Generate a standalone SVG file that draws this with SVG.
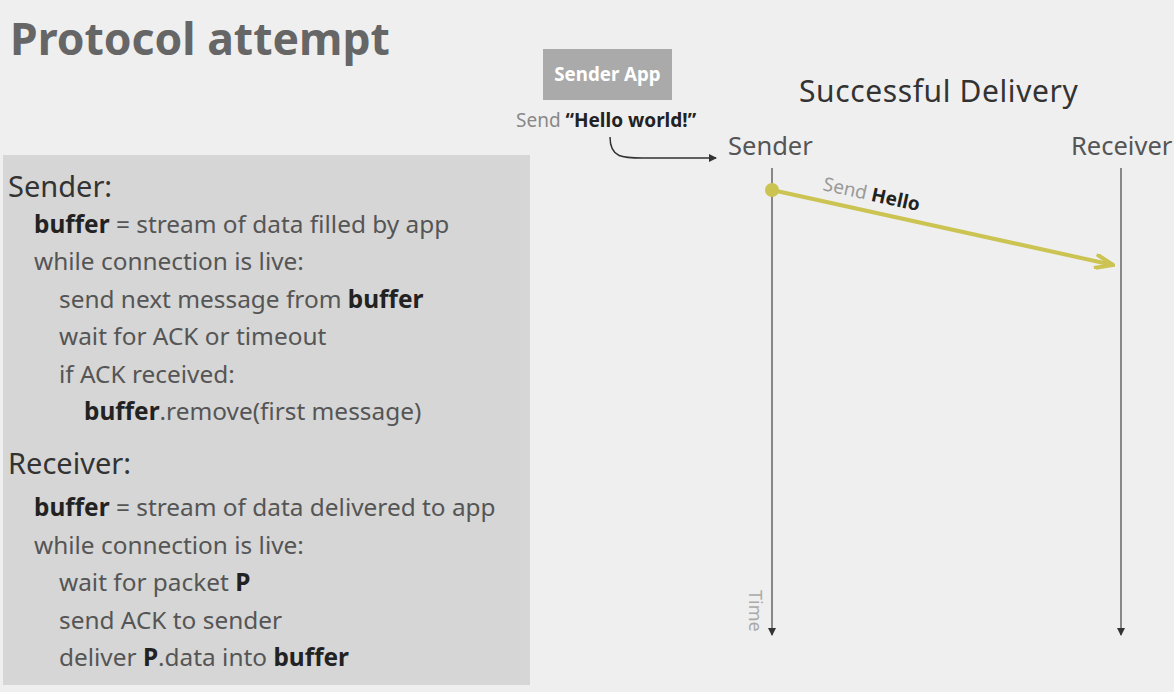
<svg xmlns="http://www.w3.org/2000/svg" width="1174" height="692" viewBox="0 0 1174 692">
<style>
text{font-family:"Noto Sans","Liberation Sans",sans-serif}
.code{font-size:24.4px;fill:#555}
.b{font-weight:bold;fill:#222}
.hd{font-size:29px;fill:#333}
.lane{font-size:25.5px;fill:#555}
.life{stroke:#666;stroke-width:1.5;fill:none}
</style>
<defs>
<marker id="ah" markerWidth="8" markerHeight="8" refX="7" refY="4" orient="auto" markerUnits="userSpaceOnUse">
<path d="M0,0 L8,4 L0,8 z" fill="#333"/>
</marker>
<marker id="ay" markerWidth="22" markerHeight="16" refX="20" refY="8" orient="auto" markerUnits="userSpaceOnUse">
<path d="M2,1 L20,8 L2,15" fill="none" stroke="#cbc352" stroke-width="4"/>
</marker>
</defs>
<rect width="1174" height="692" fill="#efefef"/>
<g id="title"><text x="10" y="55" font-size="44.5" font-weight="bold" fill="#666">Protocol attempt</text></g>
<g id="panel">
<rect x="3" y="155" width="527" height="530" fill="#d6d6d6"/>
<text x="8" y="197" class="hd">Sender:</text>
<text x="34" y="233" class="code"><tspan class="b">buffer</tspan> = stream of data filled by app</text>
<text x="34" y="270" class="code">while connection is live:</text>
<text x="59" y="308" class="code">send next message from <tspan class="b">buffer</tspan></text>
<text x="59" y="345" class="code">wait for ACK or timeout</text>
<text x="59" y="383" class="code">if ACK received:</text>
<text x="84" y="420" class="code"><tspan class="b">buffer</tspan>.remove(first message)</text>
<text x="8" y="474" class="hd">Receiver:</text>
<text x="34" y="516" class="code"><tspan class="b">buffer</tspan> = stream of data delivered to app</text>
<text x="34" y="554" class="code">while connection is live:</text>
<text x="59" y="591" class="code">wait for packet <tspan class="b">P</tspan></text>
<text x="59" y="629" class="code">send ACK to sender</text>
<text x="59" y="666" class="code">deliver <tspan class="b">P</tspan>.data into <tspan class="b">buffer</tspan></text>
</g>
<g id="sender-app">
<rect x="543" y="49" width="129" height="51" fill="#aaaaaa"/>
<text x="607.5" y="81" font-size="18.7" font-weight="bold" fill="#fff" text-anchor="middle">Sender App</text>
<text x="516" y="127" font-size="19" fill="#888">Send <tspan font-weight="bold" fill="#222">“Hello world!”</tspan></text>
</g>
<g id="heading"><text x="799" y="102" font-size="30" letter-spacing="0.6" fill="#333">Successful Delivery</text></g>
<g id="sender"><text x="728" y="155" class="lane">Sender</text></g>
<g id="receiver"><text x="1071" y="155" class="lane">Receiver</text></g>
<g id="connectors">
<path d="M610,137 C610,160 625,158 650,158 L716,158" fill="none" stroke="#333" stroke-width="1.5" marker-end="url(#ah)"/>
<path d="M772,168 L772,635" class="life" marker-end="url(#ah)"/>
<path d="M1121,168 L1121,635" class="life" marker-end="url(#ah)"/>
<circle cx="772" cy="190" r="7" fill="#cbc352"/>
<path d="M772,190 L1113,265" stroke="#cbc352" stroke-width="4" fill="none" marker-end="url(#ay)"/>
<text transform="translate(822,190) rotate(12.4)" font-size="19" fill="#999">Send <tspan font-weight="bold" fill="#222">Hello</tspan></text>
<text transform="translate(749,590) rotate(90)" font-size="18" fill="#aaa">Time</text>
</g>
</svg>
